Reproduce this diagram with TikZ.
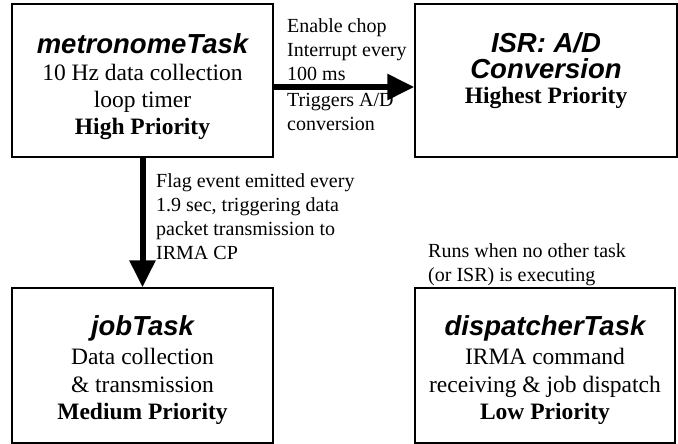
\documentclass[tikz,border=0pt]{standalone}
\usepackage{fontspec}
\setmainfont{Liberation Serif}
\newfontfamily\headfont{Liberation Sans}
\usetikzlibrary{arrows.meta}

\newcommand{\taskname}[1]{{\headfont\bfseries\itshape\fontsize{27.5}{30}\selectfont #1}}

\tikzset{
  taskbox/.style={draw, line width=1.5pt, minimum width=261pt, minimum height=153pt,
    align=center, inner sep=0pt, font=\fontsize{23.5}{27.5}\selectfont},
  note/.style={anchor=north west, align=left, inner sep=0pt,
    font=\fontsize{20}{24}\selectfont},
  bigarrow/.style={line width=6pt, -{Triangle[length=27pt,width=25pt]}}
}

\begin{document}
\begin{tikzpicture}[x=1pt,y=-1pt]
\useasboundingbox (0,0) rectangle (678,444);

% tasks
\node[taskbox] (metro) at (142.5,80.5)
	{\rule{0pt}{32pt}\taskname{metronomeTask}\\[-1pt]10 Hz data collection\\loop timer\\[-1pt]\textbf{High Priority}};
\node[taskbox, minimum width=262pt, text depth=25pt] (isr) at (546,80.5)
	{\taskname{ISR: A/D}\\[-1pt]\taskname{Conversion}\\[-3pt]\textbf{Highest Priority}};
\node[taskbox, minimum height=155pt] (job) at (142.5,365.5)
	{\rule{0pt}{29pt}\taskname{jobTask}\\[2pt]Data collection\\\& transmission\\\textbf{Medium Priority}};
\node[taskbox, minimum width=260pt, minimum height=155pt] (disp) at (545,365.5)
	{\rule{0pt}{29pt}\taskname{dispatcherTask}\\[2pt]IRMA command\\receiving \& job dispatch\\\textbf{Low Priority}};

% connectors
\draw[bigarrow] ([yshift=-6.5pt]metro.east) -- ([yshift=-6.5pt]isr.west);
\draw[bigarrow] (metro.south) -- (job.north);

% notes
\node[note] (enabletxt) at (287,18) {Enable chop\\Interrupt every\\100 ms};
\node[note] (triggertxt) at (287,93) {Triggers A/D\\conversion};
\node[note] (flagtxt) at (156,173)
	{Flag event emitted every\\1.9 sec, triggering data\\packet transmission to\\IRMA CP};
\node[note] (runstxt) at (428,243) {Runs when no other task\\(or ISR) is executing};
\end{tikzpicture}
\end{document}
